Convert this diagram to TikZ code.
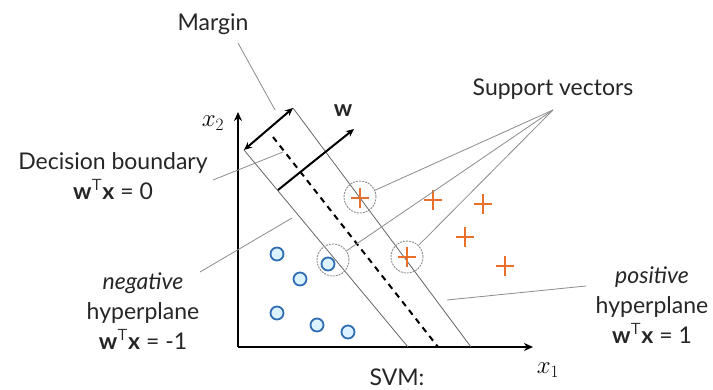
\documentclass[tikz,border=0pt]{standalone}
\usepackage{fontspec}
\setmainfont{Lato}
\usetikzlibrary{arrows.meta}
\definecolor{plusor}{HTML}{E8702A}
\definecolor{negblue}{HTML}{2F6DB5}
\definecolor{negfill}{HTML}{DDF2FF}
\definecolor{leadgray}{HTML}{8C8C8C}
\begin{document}
\begin{tikzpicture}[x=1pt,y=-1pt,
  lbl/.style={font=\fontsize{23}{30}\selectfont, text=black!85, inner sep=0pt, align=center},
  axlbl/.style={font=\fontsize{27}{30}\selectfont, inner sep=0pt},
  axis/.style={line width=2.2pt, -{Stealth[length=9pt,width=8pt]}},
  plane/.style={line width=0.8pt, black!60},
  lead/.style={line width=0.8pt, leadgray},
  svcirc/.style={circle, draw=leadgray, dashed, dash pattern=on 2pt off 1pt, line width=0.9pt, minimum size=32pt, inner sep=0pt},
  negpt/.style={circle, draw=negblue, fill=negfill, line width=1.8pt, minimum size=13pt, inner sep=0pt},
  pospt/.style={inner sep=0pt, minimum size=0pt},
]
\useasboundingbox (0,0) rectangle (713,389);
\fill[white] (0,0) rectangle (713,389);

% axes
\coordinate (O) at (238,347);
\coordinate (Ytop) at (238,112);
\coordinate (Xend) at (533,347);
\draw[axis] (O) -- (Ytop);
\draw[axis] (O) -- (Xend);
\node[axlbl] (x2) at (213,123) {$x_2$};
\node[axlbl] (x1) at (548,370) {$x_1$};

% hyperplanes
\coordinate (nA) at (244,150);
\coordinate (nB) at (408,347);
\coordinate (dA) at (273,137);
\coordinate (dB) at (438,347);
\coordinate (pA) at (293,108);
\coordinate (pB) at (471,347);
\draw[plane] (nA) -- (nB);
\draw[plane] (pA) -- (pB);
\draw[line width=2pt, dash pattern=on 6pt off 5pt] (dA) -- (dB);

% margin arrow and w
\draw[line width=2pt, {Stealth[length=8pt,width=7pt]}-{Stealth[length=8pt,width=7pt]}] (nA) -- (pA);
\coordinate (wA) at (278,190);
\coordinate (wB) at (354,129);
\draw[line width=2pt, -{Stealth[length=8pt,width=7pt]}] (wA) -- (wB);
\node[lbl, font=\fontsize{23}{30}\selectfont\bfseries] (w) at (343,111) {w};

% negative points
\node[negpt] (n1) at (277,254) {};
\node[negpt] (n2) at (300,279) {};
\node[negpt] (n3) at (277,313) {};
\node[negpt] (n4) at (317,325) {};
\node[negpt] (n5) at (348,332) {};
\node[negpt] (n6) at (328,264) {};

% positive points
\foreach \i/\px/\py in {1/360/198, 2/407/257, 3/433/200, 4/483/204, 5/465/237, 6/505/266}{
  \node[pospt] (p\i) at (\px,\py) {};
  \draw[plusor, line width=2.4pt] (\px-9,\py) -- (\px+9,\py) (\px,\py-10) -- (\px,\py+10);
}

% support vector circles
\node[svcirc] (sv1) at (360,197) {};
\node[svcirc] (sv2) at (407,257) {};
\node[svcirc] (sv3) at (333,260) {};

% labels
\node[lbl] (margin) at (213,24) {Margin};
\node[lbl] (support) at (553,89) {Support vectors};
\node[lbl] (dec) at (113,176) {Decision boundary\\$\mathbf{w}^{\mathsf{T}}\mathbf{x}$ = 0};
\node[lbl] (neg) at (143,311) {\itshape negative\\hyperplane\\$\mathbf{w}^{\mathsf{T}}\mathbf{x}$ = -1};
\node[lbl] (pos) at (652,305) {\itshape positive\\hyperplane\\$\mathbf{w}^{\mathsf{T}}\mathbf{x}$ = 1};
\node[lbl] (svm) at (397,377) {SVM:};

% leader lines
\coordinate (mEnd) at (275,110);
\draw[lead] (238,43) -- (mEnd);
\coordinate (sHub) at (553,110);
\draw[lead] (sHub) -- (sv1);
\draw[lead] (sHub) -- (sv2);
\draw[lead] (sHub) -- (sv3);
\coordinate (dEnd) at (283,152);
\draw[lead] (213,180) -- (dEnd);
\coordinate (nEnd) at (292,218);
\draw[lead] (200,272) -- (nEnd);
\coordinate (pEnd) at (447,300);
\draw[lead] (586,286) -- (pEnd);
\end{tikzpicture}
\end{document}
